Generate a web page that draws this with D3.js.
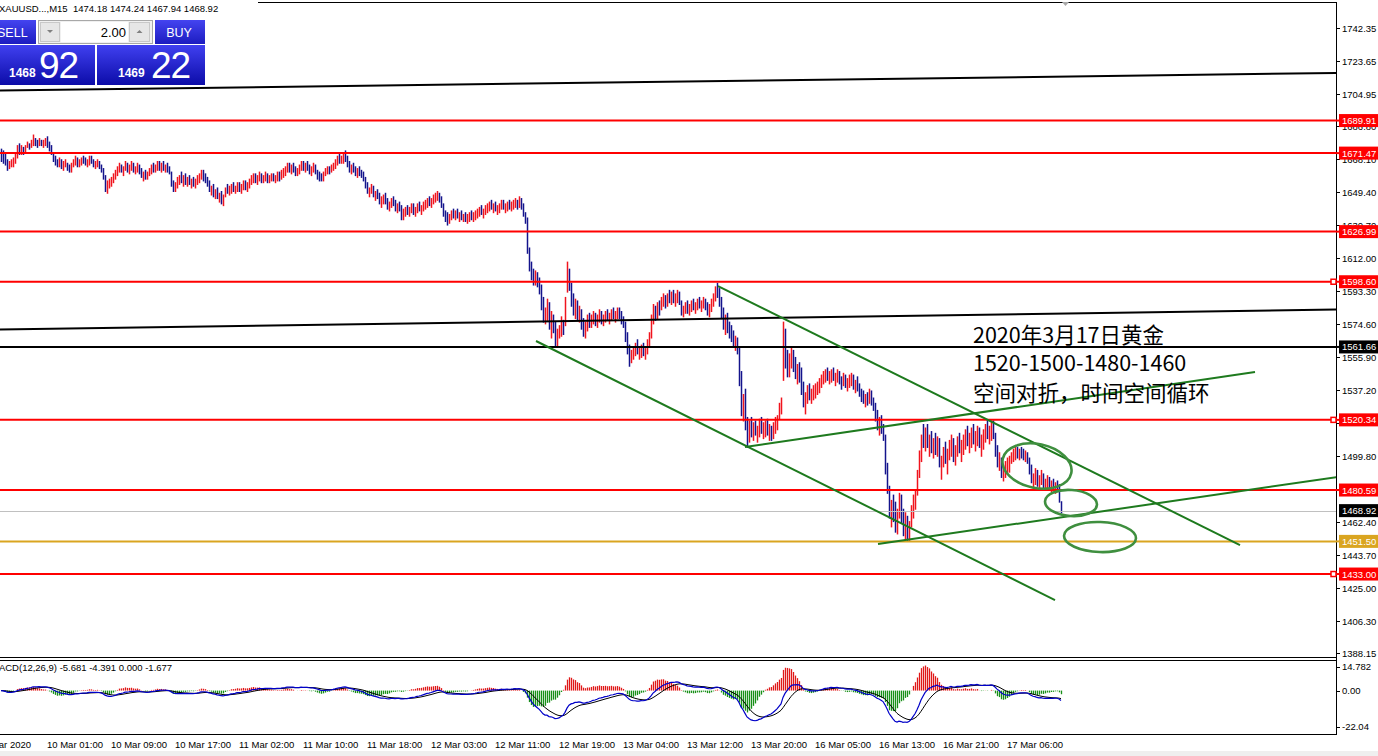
<!DOCTYPE html>
<html><head><meta charset="utf-8">
<script src="https://cdn.jsdelivr.net/npm/d3@7"></script>
<style>
html,body{margin:0;padding:0;background:#fff;overflow:hidden;}
svg{display:block;}
</style></head><body>
<svg id="c" width="1378" height="756"></svg>
<script>
// ---------- DATA (XAUUSD M15) ----------
const barHigh = [
1674,1673,1672,1668,1667,1668,1669,1671,1676,1677,
1676,1675,1676,1678,1677,1679,1682,1680,1679,1680,
1679,1679,1680,1681,1678,1676,1672,1670,1668,1669,
1668,1667,1668,1666,1665,1666,1668,1670,1669,1668,
1669,1670,1669,1668,1670,1670,1668,1667,1668,1667,
1665,1663,1659,1656,1657,1658,1660,1662,1664,1666,
1665,1664,1667,1666,1665,1667,1666,1664,1666,1665,
1663,1661,1662,1661,1663,1665,1666,1665,1667,1667,
1666,1667,1665,1666,1664,1661,1656,1655,1658,1659,
1661,1659,1660,1658,1659,1657,1658,1657,1659,1660,
1662,1662,1660,1658,1656,1653,1654,1651,1652,1649,
1650,1648,1652,1654,1653,1654,1655,1653,1655,1655,
1654,1656,1656,1655,1657,1659,1660,1660,1659,1661,
1660,1659,1661,1660,1659,1660,1660,1659,1661,1661,
1662,1663,1664,1666,1666,1665,1666,1664,1663,1665,
1667,1667,1666,1667,1665,1664,1666,1665,1662,1661,
1660,1661,1663,1664,1664,1665,1666,1668,1670,1671,
1670,1671,1673,1670,1667,1665,1666,1664,1663,1664,
1662,1661,1658,1655,1652,1654,1653,1650,1651,1649,
1647,1648,1649,1646,1644,1646,1647,1645,1643,1644,
1642,1640,1641,1642,1641,1643,1643,1641,1643,1644,
1642,1644,1645,1646,1647,1646,1648,1649,1650,1649,
1647,1643,1639,1638,1637,1639,1640,1639,1640,1638,
1639,1637,1638,1637,1638,1639,1638,1639,1640,1641,
1642,1640,1642,1643,1644,1645,1643,1644,1642,1643,
1645,1645,1643,1644,1645,1644,1645,1646,1645,1647,
1646,1643,1638,1635,1618,1610,1606,1605,1604,1601,
1597,1590,1584,1589,1587,1582,1580,1576,1572,1574,
1579,1577,1590,1610,1606,1598,1592,1589,1588,1585,
1583,1578,1576,1580,1581,1580,1582,1581,1580,1583,
1582,1580,1582,1583,1581,1583,1584,1582,1584,1584,
1582,1579,1576,1570,1563,1560,1562,1564,1566,1562,
1563,1564,1561,1566,1570,1580,1586,1585,1587,1588,
1590,1592,1591,1592,1594,1593,1594,1592,1594,1593,
1588,1585,1587,1588,1586,1588,1589,1587,1589,1590,
1588,1590,1589,1587,1586,1589,1592,1596,1598,1595,
1590,1584,1580,1581,1576,1574,1571,1568,1567,1562,
1548,1535,1538,1522,1520,1522,1519,1520,1517,1521,
1522,1519,1520,1521,1518,1517,1519,1522,1523,1530,
1533,1576,1572,1560,1558,1562,1560,1556,1552,1553,
1550,1542,1536,1540,1541,1538,1540,1541,1542,1544,
1546,1548,1549,1550,1548,1549,1550,1547,1549,1548,
1545,1547,1546,1544,1546,1547,1546,1543,1545,1541,
1538,1537,1535,1536,1538,1537,1533,1530,1526,1522,
1523,1518,1512,1496,1483,1475,1478,1474,1470,1479,
1478,1470,1468,1466,1463,1472,1478,1481,1492,1503,
1512,1518,1516,1518,1512,1514,1510,1513,1511,1510,
1500,1505,1508,1504,1509,1512,1510,1506,1511,1513,
1509,1512,1515,1517,1513,1516,1518,1514,1517,1516,
1512,1515,1518,1520,1517,1520,1520,1513,1506,1502,
1499,1495,1497,1499,1500,1502,1504,1505,1505,1504,
1505,1504,1503,1502,1499,1495,1490,1493,1492,1489,
1492,1490,1487,1489,1488,1486,1487,1485,1486,1484,
1474.24];
const barLow = [
1667,1666,1665,1662,1663,1664,1664,1666,1669,1671,
1671,1671,1672,1675,1674,1675,1676,1676,1675,1676,
1676,1675,1676,1675,1673,1671,1667,1665,1664,1664,
1663,1662,1664,1662,1661,1661,1664,1665,1664,1664,
1665,1666,1665,1664,1665,1666,1664,1663,1664,1663,
1661,1657,1650,1649,1652,1653,1655,1657,1659,1661,
1661,1659,1662,1661,1660,1662,1661,1660,1661,1660,
1658,1656,1657,1657,1659,1660,1661,1661,1662,1662,
1661,1662,1661,1661,1660,1653,1650,1650,1652,1654,
1655,1653,1654,1653,1654,1652,1653,1652,1654,1655,
1657,1656,1655,1653,1650,1648,1647,1646,1646,1644,
1643,1642,1647,1649,1648,1649,1650,1649,1650,1650,
1649,1651,1651,1650,1652,1654,1655,1655,1654,1656,
1655,1655,1656,1655,1655,1656,1656,1655,1656,1656,
1657,1658,1659,1661,1661,1660,1661,1659,1659,1660,
1662,1662,1661,1662,1660,1659,1661,1660,1657,1656,
1656,1656,1659,1660,1660,1661,1662,1663,1665,1666,
1666,1666,1667,1664,1661,1660,1661,1659,1658,1659,
1658,1656,1652,1649,1647,1649,1647,1645,1646,1643,
1641,1643,1643,1640,1639,1641,1642,1639,1638,1639,
1634,1634,1636,1637,1636,1638,1637,1636,1638,1639,
1637,1639,1640,1641,1642,1641,1643,1644,1645,1644,
1641,1636,1633,1631,1632,1634,1635,1634,1635,1633,
1634,1633,1633,1632,1633,1634,1633,1634,1635,1636,
1637,1635,1637,1638,1639,1640,1638,1639,1637,1638,
1640,1640,1638,1639,1640,1639,1640,1641,1640,1641,
1640,1636,1632,1615,1605,1600,1597,1597,1596,1592,
1583,1576,1575,1577,1572,1567,1570,1562,1562,1567,
1568,1569,1574,1593,1594,1585,1580,1578,1577,1576,
1572,1568,1567,1571,1573,1573,1575,1574,1573,1576,
1575,1574,1576,1577,1575,1577,1578,1576,1578,1578,
1575,1573,1565,1558,1551,1553,1555,1557,1558,1555,
1556,1557,1555,1558,1562,1567,1575,1577,1578,1580,
1583,1585,1584,1585,1587,1586,1587,1585,1587,1586,
1580,1579,1581,1581,1580,1582,1583,1581,1583,1584,
1582,1584,1583,1580,1579,1582,1585,1588,1590,1585,
1578,1572,1569,1570,1567,1565,1562,1560,1558,1540,
1523,1520,1515,1505,1508,1511,1509,1512,1508,1511,
1513,1510,1511,1512,1509,1509,1510,1513,1515,1521,
1524,1543,1550,1545,1545,1550,1548,1544,1541,1542,
1535,1528,1524,1530,1532,1530,1532,1533,1535,1536,
1539,1541,1542,1543,1541,1542,1543,1540,1542,1541,
1538,1540,1539,1537,1539,1540,1538,1536,1537,1534,
1531,1530,1528,1529,1530,1529,1526,1520,1515,1512,
1513,1509,1490,1479,1465,1460,1463,1457,1456,1465,
1462,1455,1453,1452,1452,1460,1465,1470,1478,1488,
1497,1505,1503,1505,1500,1502,1499,1501,1500,1494,
1487,1494,1496,1490,1498,1500,1497,1495,1500,1502,
1497,1501,1504,1506,1502,1505,1507,1503,1506,1505,
1500,1504,1508,1510,1507,1509,1510,1500,1494,1492,
1488,1486,1488,1490,1491,1496,1497,1498,1499,1498,
1499,1498,1497,1496,1490,1485,1482,1484,1483,1482,
1484,1482,1481,1482,1481,1480,1481,1479,1480,1474,
1467.94];
const barClose = [
1670,1668,1666,1663,1665,1667,1668,1670,1675,1673,
1674,1673,1675,1677,1676,1678,1680,1678,1677,1679,
1677,1678,1679,1676,1674,1672,1668,1667,1665,1668,
1664,1666,1667,1663,1662,1665,1667,1669,1665,1667,
1668,1667,1666,1667,1669,1667,1665,1666,1667,1664,
1662,1658,1652,1654,1655,1657,1659,1661,1663,1665,
1662,1663,1666,1662,1664,1665,1662,1663,1665,1661,
1659,1660,1658,1660,1662,1664,1662,1664,1666,1663,
1665,1663,1664,1662,1661,1654,1652,1654,1656,1658,
1656,1658,1655,1657,1655,1656,1654,1656,1658,1659,
1661,1658,1657,1654,1651,1652,1648,1650,1647,1648,
1645,1646,1651,1650,1652,1653,1651,1652,1654,1651,
1653,1655,1652,1654,1656,1658,1659,1656,1658,1660,
1657,1658,1659,1657,1658,1659,1657,1658,1660,1659,
1661,1662,1663,1665,1662,1664,1662,1660,1662,1664,
1666,1663,1665,1664,1662,1663,1665,1661,1659,1658,
1657,1660,1662,1663,1661,1664,1665,1667,1669,1668,
1669,1670,1669,1665,1662,1664,1662,1660,1662,1660,
1659,1657,1653,1650,1651,1653,1648,1649,1647,1644,
1645,1647,1644,1641,1643,1645,1643,1641,1642,1640,
1636,1638,1639,1638,1640,1641,1638,1640,1642,1640,
1641,1643,1644,1645,1643,1645,1647,1648,1649,1645,
1642,1637,1635,1634,1636,1638,1637,1638,1636,1637,
1635,1636,1634,1635,1637,1636,1637,1638,1639,1640,
1638,1639,1641,1642,1643,1641,1642,1640,1641,1642,
1644,1641,1642,1643,1642,1643,1644,1645,1643,1645,
1641,1637,1634,1617,1607,1603,1599,1602,1598,1594,
1585,1579,1581,1586,1574,1578,1572,1565,1570,1572,
1577,1575,1588,1601,1596,1588,1583,1586,1579,1582,
1574,1570,1574,1578,1576,1578,1580,1576,1579,1581,
1577,1579,1580,1578,1580,1582,1579,1581,1583,1580,
1577,1575,1567,1560,1555,1558,1560,1562,1559,1560,
1562,1558,1560,1565,1568,1578,1584,1580,1585,1583,
1588,1590,1586,1591,1589,1592,1590,1591,1593,1588,
1582,1584,1585,1583,1585,1587,1584,1586,1588,1586,
1587,1589,1585,1582,1584,1588,1590,1594,1592,1587,
1580,1575,1577,1572,1570,1567,1564,1566,1560,1543,
1527,1530,1518,1510,1517,1514,1516,1513,1515,1519,
1514,1516,1518,1513,1515,1511,1517,1520,1521,1528,
1530,1565,1555,1552,1555,1558,1551,1547,1549,1545,
1538,1531,1534,1538,1535,1536,1538,1539,1540,1542,
1544,1545,1547,1545,1546,1548,1544,1546,1547,1543,
1543,1545,1541,1542,1544,1545,1540,1541,1539,1536,
1535,1532,1533,1531,1536,1531,1528,1522,1518,1520,
1515,1511,1493,1482,1468,1472,1466,1460,1467,1476,
1465,1458,1463,1455,1461,1469,1476,1479,1490,1500,
1510,1508,1512,1507,1510,1504,1508,1505,1509,1496,
1498,1502,1498,1501,1506,1508,1500,1504,1509,1505,
1507,1510,1512,1508,1511,1514,1510,1512,1515,1508,
1510,1513,1515,1512,1515,1518,1512,1503,1497,1500,
1491,1493,1495,1497,1498,1500,1502,1503,1501,1503,
1502,1500,1501,1498,1492,1487,1488,1490,1485,1487,
1489,1484,1486,1487,1483,1485,1483,1484,1482,1476,
1468.92];
const lastOpen = 1474.18;

const priceTicks = [1742.35,1723.65,1704.95,1686.80,1668.10,1649.40,1630.70,1612.00,1593.30,1574.60,1555.90,1537.20,1518.50,1499.80,1481.10,1462.40,1443.70,1425.00,1406.30,1388.15];
// labels fully covered by the level tags in the reference are not drawn
const hiddenTickLabels = [1518.50,1481.10];
const levelPrices = [1689.91,1671.47,1626.99,1598.60,1561.66,1520.34,1480.59,1451.50,1433.00];
const levelKinds  = ["red","red","red","red","black","red","red","gold","red"];
const levelMarked = [false,false,false,true,false,true,false,false,true];
const bidPrice = 1468.92;

const timeLabels = ["9 Mar 2020","10 Mar 01:00","10 Mar 09:00","10 Mar 17:00","11 Mar 02:00","11 Mar 10:00","11 Mar 18:00","12 Mar 03:00","12 Mar 11:00","12 Mar 19:00","13 Mar 04:00","13 Mar 12:00","13 Mar 20:00","16 Mar 05:00","16 Mar 13:00","16 Mar 21:00","17 Mar 06:00"];
const timeLabelIdx = [-9,23,55,87,119,151,183,215,247,279,311,343,375,407,439,471,503];

const macdTicks = [14.782, 0.00, -22.04];
const macdTickText = ["14.782","0.00","-22.04"];
const macdHeader = "MACD(12,26,9) -5.681 -4.391 0.000 -1.677";
const quoteHeader = "XAUUSD...,M15  1474.18 1474.24 1467.94 1468.92";

// trend lines: [startIdx, endIdx], [startPrice, endPrice]
const blackTrendIdx = [[-0.5,667.5],[-0.5,667.5]];
const blackTrendPrice = [[1706.94,1716.85],[1571.53,1582.86]];
const greenTrendIdx = [[358.5,619.5],[267.5,527],[372,627],[438.5,668]];
const greenTrendPrice = [[1596.17,1449.43],[1565.02,1418.27],[1504.96,1547.45],[1450.0,1487.95]];
const ellipseIdx = [518,535,549.5];
const ellipsePrice = [1494.19,1473.23,1453.96];

const noteLines = ["2020年3月17日黄金","1520-1500-1480-1460","空间对折，时间空间循环"];
const noteIdx = 486;
const notePrices = [1563.9,1548.0,1531.0];

// ---------- DRAWING ----------
const svg = d3.select("#c");
const FONT = "'Liberation Sans', Arial, sans-serif";
const CJK = "'Noto Sans CJK SC','Noto Sans',sans-serif";
const AX = 1336;
const x = d3.scaleLinear().domain([0,530]).range([1,1061]);
const y = d3.scaleLinear().domain([1742.35,1388.15]).range([28,653.2]);
const ym = d3.scaleLinear().domain([14.782,-22.04]).range([666.5,726.5]);

const defs = svg.append("defs");
defs.append("clipPath").attr("id","mainClip").append("rect").attr("x",0).attr("y",3).attr("width",AX).attr("height",654);
defs.append("clipPath").attr("id","macdClip").append("rect").attr("x",0).attr("y",661).attr("width",AX).attr("height",73);
function grad(id,c1,c2){const g=defs.append("linearGradient").attr("id",id).attr("x1",0).attr("y1",0).attr("x2",0).attr("y2",1);
 g.append("stop").attr("offset","0%").attr("stop-color",c1); g.append("stop").attr("offset","100%").attr("stop-color",c2);}
grad("btn","#4444f0","#1c1cc0");
grad("big","#4040f0","#0c0ca8");

svg.append("rect").attr("width",1378).attr("height",756).attr("fill","#fff");
svg.append("rect").attr("x",0).attr("y",751).attr("width",1378).attr("height",5).attr("fill","#efefef");

// frame
const frame = svg.append("g").attr("stroke","#000").attr("stroke-width",1).attr("shape-rendering","crispEdges");
frame.append("line").attr("x1",258).attr("x2",AX+0.5).attr("y1",2.5).attr("y2",2.5);
frame.append("line").attr("x1",AX+0.5).attr("x2",AX+0.5).attr("y1",2).attr("y2",735);
frame.append("line").attr("x1",0).attr("x2",AX+1).attr("y1",657.5).attr("y2",657.5);
frame.append("line").attr("x1",0).attr("x2",AX+1).attr("y1",660.5).attr("y2",660.5);
frame.append("line").attr("x1",0).attr("x2",AX+1).attr("y1",734.5).attr("y2",734.5);

// price axis ticks & labels
const pa = svg.append("g");
pa.selectAll("line").data(priceTicks).join("line")
  .attr("x1",AX).attr("x2",AX+4).attr("y1",d=>Math.round(y(d))+0.5).attr("y2",d=>Math.round(y(d))+0.5)
  .attr("stroke","#000").attr("shape-rendering","crispEdges");
pa.selectAll("text").data(priceTicks.filter(t=>!hiddenTickLabels.includes(t))).join("text")
  .attr("x",AX+6).attr("y",d=>y(d)+3.5).attr("font-family",FONT).attr("font-size",9.5).attr("fill","#000")
  .text(d=>d.toFixed(2));

// bars
const main = svg.append("g").attr("clip-path","url(#mainClip)");
const opens = barClose.map((c,i)=> i===barClose.length-1 ? lastOpen : (i===0 ? barHigh[0] : barClose[i-1]));
main.append("g").selectAll("line").data(barClose).join("line")
  .attr("x1",(d,i)=>x(i)+0.5).attr("x2",(d,i)=>x(i)+0.5)
  .attr("y1",(d,i)=>y(barHigh[i])).attr("y2",(d,i)=>y(barLow[i])+1)
  .attr("stroke",(d,i)=> d>opens[i] ? "#f0141e" : "#14148c").attr("stroke-width",1.5);

// bid line
main.append("line").attr("x1",0).attr("x2",AX).attr("y1",Math.round(y(bidPrice))+0.5).attr("y2",Math.round(y(bidPrice))+0.5)
  .attr("stroke","#c0c0c0").attr("stroke-width",1);

// horizontal levels
const levelColor = {red:"#ff0000",black:"#000000",gold:"#daa520"};
main.selectAll(".lvl").data(levelPrices).join("line").attr("class","lvl")
  .attr("x1",0).attr("x2",AX).attr("y1",d=>y(d)).attr("y2",d=>y(d))
  .attr("stroke",(d,i)=>levelColor[levelKinds[i]]).attr("stroke-width",2);

// black trend lines
main.selectAll(".bt").data(blackTrendIdx).join("line").attr("class","bt")
  .attr("x1",d=>x(d[0])).attr("x2",d=>x(d[1]))
  .attr("y1",(d,i)=>y(blackTrendPrice[i][0])).attr("y2",(d,i)=>y(blackTrendPrice[i][1]))
  .attr("stroke","#000").attr("stroke-width",2);
// green trend lines
main.selectAll(".gt").data(greenTrendIdx).join("line").attr("class","gt")
  .attr("x1",d=>x(d[0])).attr("x2",d=>x(d[1]))
  .attr("y1",(d,i)=>y(greenTrendPrice[i][0])).attr("y2",(d,i)=>y(greenTrendPrice[i][1]))
  .attr("stroke","#1e7a1e").attr("stroke-width",2);

// ellipses
const eR = [[35,22,12],[26,13,4],[36,15,2]];
main.selectAll(".el").data(ellipseIdx).join("ellipse").attr("class","el")
  .attr("cx",0).attr("cy",0).attr("rx",(d,i)=>eR[i][0]).attr("ry",(d,i)=>eR[i][1])
  .attr("transform",(d,i)=>`translate(${x(d)},${y(ellipsePrice[i])}) rotate(${eR[i][2]})`)
  .attr("fill","none").attr("stroke","#3f8f3f").attr("stroke-width",2.6);

// annotation text
main.selectAll(".note").data(noteLines).join("text").attr("class","note")
  .attr("x",x(noteIdx)).attr("y",(d,i)=>y(notePrices[i]))
  .attr("font-family",CJK).attr("font-size",21.5).attr("fill","#000").text(d=>d);

// shift marker
svg.append("path").attr("d","M1062,2 L1069,2 L1065.5,6 Z").attr("fill","#a8a8a8");

// level labels on axis
const labG = svg.append("g");
levelPrices.forEach((p,i)=>{
  const yy = y(p);
  const bg = levelKinds[i]==="red" ? "#ff0000" : (levelKinds[i]==="gold" ? "#daa520" : "#000");
  labG.append("line").attr("x1",AX).attr("x2",AX+4).attr("y1",yy).attr("y2",yy).attr("stroke",bg).attr("stroke-width",2);
  labG.append("rect").attr("x",AX+3).attr("y",yy-6.5).attr("width",39).attr("height",13).attr("fill",bg);
  labG.append("text").attr("x",AX+6).attr("y",yy+3.5).attr("font-family",FONT).attr("font-size",9.5).attr("fill","#fff").text(p.toFixed(2));
  if(levelMarked[i]){
    labG.append("rect").attr("x",AX-5).attr("y",yy-2.5).attr("width",5).attr("height",5).attr("fill","#fff").attr("stroke",bg).attr("stroke-width",1.5);
  }
});
// bid label
{
  const yy = y(bidPrice);
  labG.append("rect").attr("x",AX+3).attr("y",yy-6.5).attr("width",39).attr("height",13).attr("fill","#000");
  labG.append("text").attr("x",AX+6).attr("y",yy+3.5).attr("font-family",FONT).attr("font-size",9.5).attr("fill","#fff").text(bidPrice.toFixed(2));
}

// header
svg.append("text").attr("x",-1).attr("y",12).attr("font-family",FONT).attr("font-size",9.5).attr("fill","#000").attr("xml:space","preserve").text(quoteHeader);

// ---------- MACD ----------
function ema(arr,n){const k=2/(n+1);let e=arr[0];return arr.map((v,i)=>{e=i===0?v:v*k+e*(1-k);return e;});}
const e12 = ema(barClose,12), e26 = ema(barClose,26);
const macdMain = barClose.map((c,i)=>e12[i]-e26[i]);
const macdSignal = ema(macdMain,9);
const macdHist = macdMain.map((v,i)=>2*(v-macdSignal[i]));

const mg = svg.append("g").attr("clip-path","url(#macdClip)");
mg.append("g").selectAll("line").data(macdHist).join("line")
  .attr("x1",(d,i)=>x(i)+0.5).attr("x2",(d,i)=>x(i)+0.5)
  .attr("y1",ym(0)).attr("y2",d=>ym(d))
  .attr("stroke",d=>d>=0?"#e01818":"#189018").attr("stroke-width",1.3);
mg.append("path").datum(macdSignal).attr("fill","none").attr("stroke","#000").attr("stroke-width",1)
  .attr("d",d3.line().x((d,i)=>x(i)).y(d=>ym(d)));
mg.append("path").datum(macdMain).attr("fill","none").attr("stroke","#0000c8").attr("stroke-width",1.2)
  .attr("d",d3.line().x((d,i)=>x(i)).y(d=>ym(d)));

svg.selectAll(".mt").data(macdTicks).join("line").attr("class","mt")
  .attr("x1",AX).attr("x2",AX+4).attr("y1",d=>Math.round(ym(d))+0.5).attr("y2",d=>Math.round(ym(d))+0.5).attr("stroke","#000");
svg.selectAll(".mtl").data(macdTicks).join("text").attr("class","mtl")
  .attr("x",AX+6).attr("y",d=>ym(d)+3.5).attr("font-family",FONT).attr("font-size",9.5).attr("fill","#000")
  .text((d,i)=>macdTickText[i]);
svg.append("text").attr("x",-9).attr("y",671).attr("font-family",FONT).attr("font-size",9.5).attr("fill","#000").text(macdHeader);

// time axis
svg.selectAll(".tl").data(timeLabels).join("text").attr("class","tl")
  .attr("x",(d,i)=>x(timeLabelIdx[i])).attr("y",748).attr("font-family",FONT).attr("font-size",9.5).attr("fill","#000").text(d=>d);

// ---------- one-click trading panel ----------
const p = svg.append("g");
p.append("rect").attr("x",-2).attr("y",20).attr("width",38).attr("height",24).attr("fill","url(#btn)");
p.append("text").attr("x",-3).attr("y",37).attr("font-family",FONT).attr("font-size",12.5).attr("fill","#fff").text("SELL");
p.append("rect").attr("x",38.5).attr("y",20.5).attr("width",114).attr("height",23).attr("fill","#f0f0f0").attr("stroke","#a8a8a8");
p.append("rect").attr("x",40.5).attr("y",22.5).attr("width",19).attr("height",19).attr("fill","#e6e6e6").attr("stroke","#c8c8c8");
p.append("path").attr("d","M47,30 L53,30 L50,33 Z").attr("fill","#808080");
p.append("rect").attr("x",61).attr("y",22).attr("width",67).attr("height",20).attr("fill","#fff");
p.append("text").attr("x",126).attr("y",37).attr("text-anchor","end").attr("font-family",FONT).attr("font-size",13).attr("fill","#000").text("2.00");
p.append("rect").attr("x",129.5).attr("y",22.5).attr("width",20).attr("height",19).attr("fill","#e6e6e6").attr("stroke","#c8c8c8");
p.append("path").attr("d","M136.5,33 L142.5,33 L139.5,30 Z").attr("fill","#808080");
p.append("rect").attr("x",155).attr("y",20).attr("width",50).attr("height",24).attr("fill","url(#btn)");
p.append("text").attr("x",179).attr("y",37).attr("text-anchor","middle").attr("font-family",FONT).attr("font-size",12.5).attr("fill","#fff").text("BUY");
p.append("rect").attr("x",-2).attr("y",45).attr("width",97).attr("height",40).attr("fill","url(#big)");
p.append("rect").attr("x",97).attr("y",45).attr("width",108).attr("height",40).attr("fill","url(#big)");
p.append("text").attr("x",9).attr("y",77).attr("font-family",FONT).attr("font-size",12).attr("font-weight","bold").attr("fill","#fff").text("1468");
p.append("text").attr("x",39).attr("y",78).attr("font-family",FONT).attr("font-size",37).attr("letter-spacing",-1).attr("fill","#fff").text("92");
p.append("text").attr("x",118).attr("y",77).attr("font-family",FONT).attr("font-size",12).attr("font-weight","bold").attr("fill","#fff").text("1469");
p.append("text").attr("x",151).attr("y",78).attr("font-family",FONT).attr("font-size",37).attr("letter-spacing",-1).attr("fill","#fff").text("22");
</script>
</body></html>
